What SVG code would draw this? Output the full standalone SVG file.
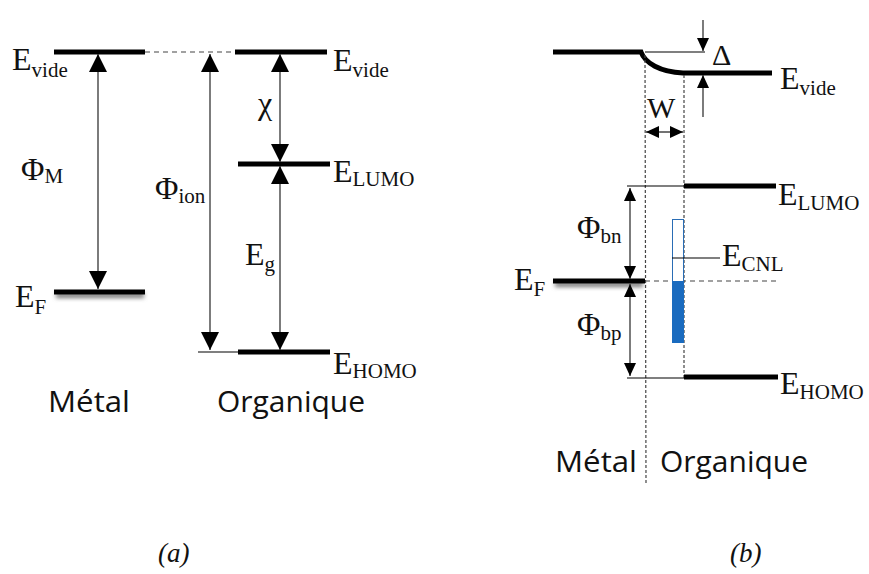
<svg xmlns="http://www.w3.org/2000/svg" width="869" height="574" viewBox="0 0 869 574">
<defs>
<marker id="ah" markerUnits="userSpaceOnUse" markerWidth="18" markerHeight="18" refX="18" refY="9" orient="auto-start-reverse" viewBox="0 0 18 18">
<path d="M0,0 L18,9 L0,18 z" fill="#000"/>
</marker>
<marker id="as" markerUnits="userSpaceOnUse" markerWidth="13" markerHeight="12" refX="13" refY="6" orient="auto-start-reverse" viewBox="0 0 13 12">
<path d="M0,0 L13,6 L0,12 z" fill="#000"/>
</marker>
<filter id="sh" x="-20%" y="-200%" width="140%" height="500%">
<feGaussianBlur stdDeviation="2.2"/>
</filter>
</defs>
<style>
.bar{stroke:#000;stroke-width:5;fill:none}
.thin{stroke:#000;stroke-width:1.2;fill:none}
.arr{stroke:#444;stroke-width:1.4;fill:none}
.dash{stroke:#444;stroke-width:1.2;stroke-dasharray:3,2;fill:none}
.lvl{font-family:"Liberation Serif",serif;font-size:32px;fill:#111}
.sub{font-size:21px}
.cap{font-family:"Open Sans","Liberation Sans",sans-serif;font-size:30px;fill:#111}
.fig{font-family:"Liberation Serif",serif;font-style:italic;font-size:27px;fill:#111}
</style>
<rect width="869" height="574" fill="#fff"/>

<!-- Panel (a) -->
<g id="a-levels">
<line class="bar" x1="54" y1="52" x2="145" y2="52"/>
<line class="dash" x1="145" y1="52" x2="235" y2="52" style="stroke-dasharray:5,4"/>
<line class="bar" x1="235" y1="52" x2="327" y2="52"/>
<line class="bar" x1="238" y1="164" x2="330" y2="164"/>
<rect x="56" y="293" width="88" height="5" fill="#777" filter="url(#sh)"/>
<line class="bar" x1="54" y1="292" x2="145" y2="292"/>
<line class="thin" x1="198" y1="352" x2="240" y2="352"/>
<line class="bar" x1="238" y1="352" x2="330" y2="352"/>
</g>
<g id="a-connectors">
<line class="arr" x1="98" y1="54" x2="98" y2="289" marker-start="url(#ah)" marker-end="url(#ah)"/>
<line class="arr" x1="210" y1="54" x2="210" y2="350" marker-start="url(#ah)" marker-end="url(#ah)"/>
<line class="arr" x1="280" y1="54" x2="280" y2="162" marker-start="url(#ah)" marker-end="url(#ah)"/>
<line class="arr" x1="280" y1="166" x2="280" y2="350" marker-start="url(#ah)" marker-end="url(#ah)"/>
</g>
<g id="a-labels">
<text class="lvl" x="12" y="70">E<tspan class="sub" dy="7">vide</tspan></text>
<text class="lvl" x="333" y="71">E<tspan class="sub" dy="6">vide</tspan></text>
<text class="lvl" x="333" y="182">E<tspan class="sub" dy="4">LUMO</tspan></text>
<text class="lvl" x="333" y="374">E<tspan class="sub" dy="4">HOMO</tspan></text>
<text class="lvl" x="15" y="307">E<tspan class="sub" dy="7">F</tspan></text>
<text class="lvl" x="21" y="180">Φ<tspan class="sub" dy="3">M</tspan></text>
<text class="lvl" x="155" y="199">Φ<tspan class="sub" dy="4">ion</tspan></text>
<text class="lvl" x="258" y="114">χ</text>
<text class="lvl" x="245" y="265">E<tspan class="sub" dy="6">g</tspan></text>
<text class="cap" x="48" y="412" textLength="82" lengthAdjust="spacingAndGlyphs">Métal</text>
<text class="cap" x="217" y="412" textLength="148" lengthAdjust="spacingAndGlyphs">Organique</text>
<text class="fig" x="158" y="562">(a)</text>
</g>

<!-- Panel (b) -->
<g id="b-levels">
<path class="bar" d="M553,52 L641,52 C645,63 660,72 683,73 L772,73"/>
<line class="thin" x1="645" y1="52" x2="705" y2="52"/>
<line class="dash" x1="645" y1="55" x2="646" y2="483"/>
<line class="dash" x1="684" y1="75" x2="684" y2="378"/>
<line class="thin" x1="627" y1="186" x2="684" y2="186"/>
<line class="bar" x1="684" y1="186" x2="776" y2="186"/>
<rect x="555" y="282" width="88" height="5" fill="#777" filter="url(#sh)"/>
<line class="bar" x1="553" y1="281" x2="645" y2="281"/>
<line class="dash" x1="645" y1="281" x2="777" y2="281" style="stroke-dasharray:5,4"/>
<line class="thin" x1="627" y1="378" x2="684" y2="378"/>
<line class="bar" x1="684" y1="377" x2="778" y2="377"/>
</g>
<g id="b-cnl">
<rect x="672.5" y="219.5" width="11" height="62" fill="#fff" stroke="#2a6db5" stroke-width="1"/>
<rect x="672" y="281" width="12" height="62" fill="#1a6bbf"/>
<line class="thin" x1="672" y1="258" x2="720" y2="258"/>
</g>
<g id="b-connectors">
<line class="arr" x1="703" y1="20" x2="703" y2="51" marker-end="url(#as)"/>
<line class="arr" x1="703" y1="117" x2="703" y2="75" marker-end="url(#as)"/>
<line class="arr" x1="646" y1="132" x2="683" y2="132" marker-start="url(#as)" marker-end="url(#as)"/>
<line class="arr" x1="630" y1="188" x2="630" y2="279" marker-start="url(#as)" marker-end="url(#as)"/>
<line class="arr" x1="630" y1="284" x2="630" y2="376" marker-start="url(#as)" marker-end="url(#as)"/>
</g>
<g id="b-labels">
<text class="lvl" x="712" y="65" style="font-size:30px">Δ</text>
<text class="lvl" x="647" y="118" style="font-size:30px">W</text>
<text class="lvl" x="780" y="89">E<tspan class="sub" dy="6">vide</tspan></text>
<text class="lvl" x="778" y="205">E<tspan class="sub" dy="5">LUMO</tspan></text>
<text class="lvl" x="722" y="266">E<tspan class="sub" dy="5">CNL</tspan></text>
<text class="lvl" x="514" y="290">E<tspan class="sub" dy="6">F</tspan></text>
<text class="lvl" x="577" y="238">Φ<tspan class="sub" dy="5">bn</tspan></text>
<text class="lvl" x="577" y="335">Φ<tspan class="sub" dy="5">bp</tspan></text>
<text class="lvl" x="780" y="394">E<tspan class="sub" dy="5">HOMO</tspan></text>
<text class="cap" x="555" y="472" textLength="82" lengthAdjust="spacingAndGlyphs">Métal</text>
<text class="cap" x="660" y="472" textLength="148" lengthAdjust="spacingAndGlyphs">Organique</text>
<text class="fig" x="730" y="562">(b)</text>
</g>
</svg>
